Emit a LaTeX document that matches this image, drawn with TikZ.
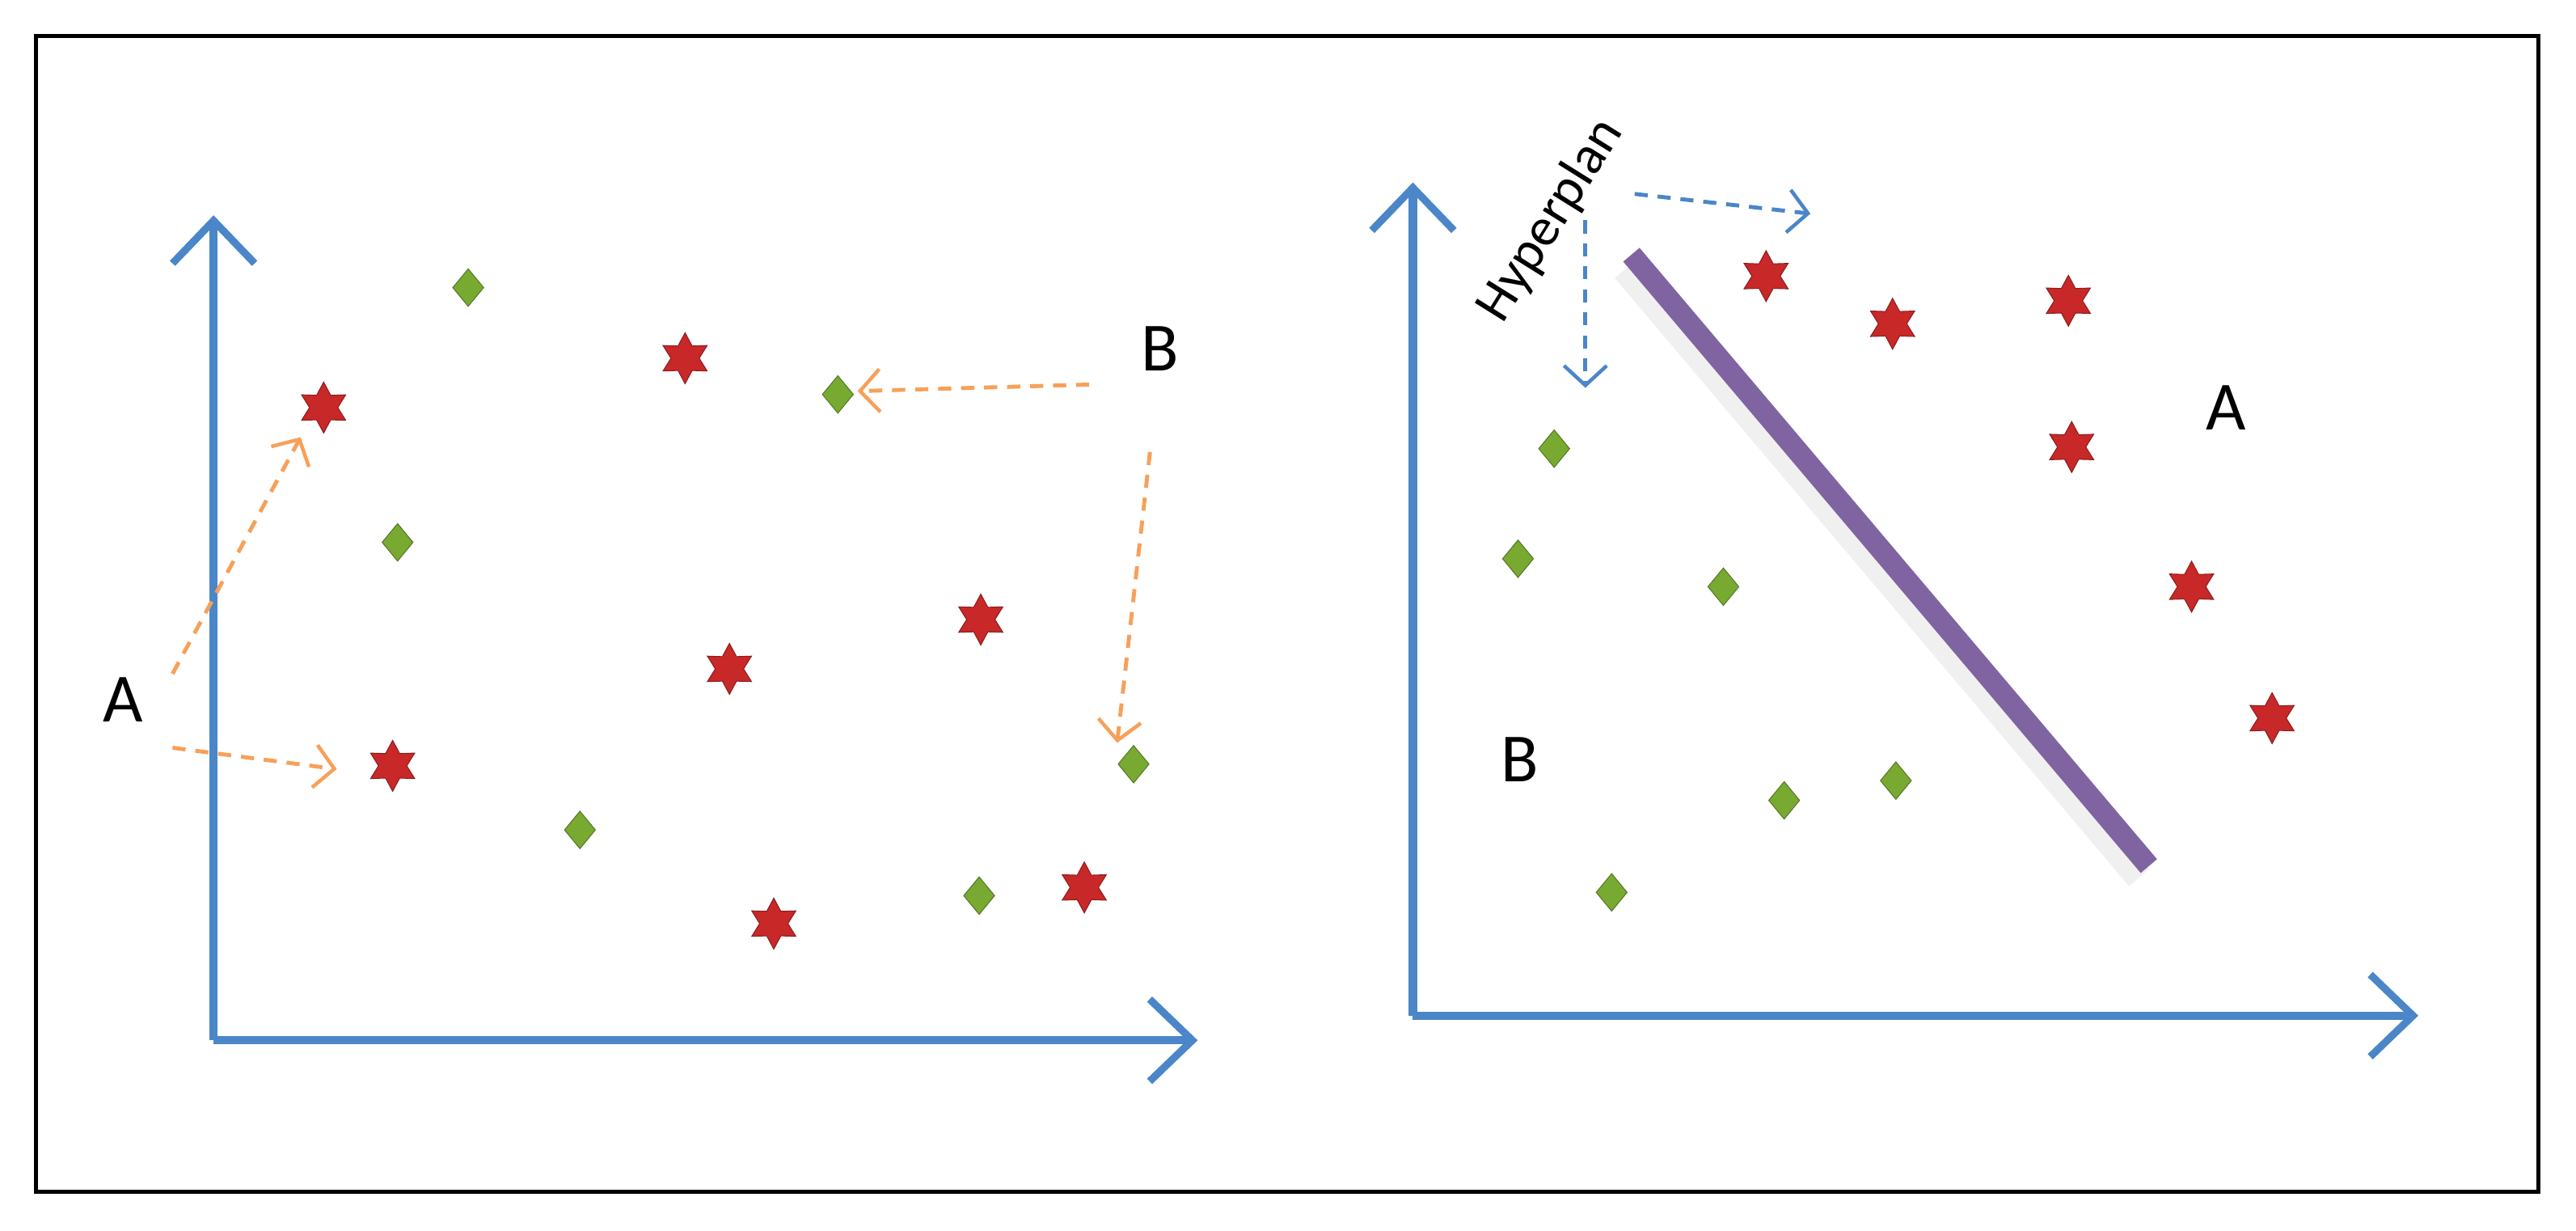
\documentclass[tikz,border=0pt]{standalone}
\usepackage{fontspec}
\setmainfont{Carlito}
\usetikzlibrary{shapes.geometric,arrows.meta}
\definecolor{axis}{RGB}{74,134,200}
\definecolor{orng}{RGB}{247,160,90}
\definecolor{strr}{RGB}{200,40,40}
\definecolor{dgrn}{RGB}{120,170,50}
\definecolor{purp}{RGB}{128,100,162}
\begin{document}
\begin{tikzpicture}[x=1pt,y=-1pt,
  ax/.style={draw=axis,line width=5pt,-{Straight Barb[length=26pt,width=50pt,line width=4.5pt]}},
  oarr/.style={draw=orng,line width=2.4pt,dash pattern=on 8pt off 6pt,-{Straight Barb[length=12pt,width=26pt,line width=2.2pt]}},
  barr/.style={draw=axis,line width=2.4pt,dash pattern=on 8pt off 6pt,-{Straight Barb[length=12pt,width=26pt,line width=2.2pt]}},
  st/.style={star,star points=6,star point ratio=1.8,minimum size=31pt,inner sep=0pt,fill=strr,draw=strr!70!black,line width=0.5pt},
  dm/.style={diamond,minimum width=19pt,minimum height=23pt,inner sep=0pt,fill=dgrn,draw=dgrn!70!black,line width=0.5pt},
  lab/.style={font=\fontsize{42}{46}\selectfont}]
\useasboundingbox (0,0) rectangle (1568,749);
\fill[white] (0,0) rectangle (1568,749);
\draw[line width=2.5pt] (22,22) rectangle (1545,725);
% left axes
\coordinate (o1) at (130,633); \coordinate (y1) at (130,131); \coordinate (x1) at (729,633);
\draw[ax] (o1) -- (y1); \draw[ax] (o1) -- (x1);
\foreach \n/\p in {d1/{285,175},d2/{510,240},d3/{242,330},d4/{353,505},d5/{596,545},d6/{690,465}}
  \node[dm] (\n) at (\p) {};
\foreach \n/\p in {s1/{197,248},s2/{417,218},s3/{597,377},s4/{444,407},s5/{239,466},s6/{471,562},s7/{660,540}}
  \node[st] (\n) at (\p) {};
\node[lab] (A1) at (75,426) {A};
\node[lab] (B1) at (706,212) {B};
\coordinate (a1s) at (105,410); \coordinate (a2s) at (105,455);
\coordinate (b1s) at (663,234); \coordinate (b2s) at (700,275);
\draw[oarr] (a1s) -- (183,266);
\draw[oarr] (a2s) -- (205,468);
\draw[oarr] (b1s) -- (522,238);
\draw[oarr] (b2s) -- (680,452);
% right axes
\coordinate (o2) at (860,618); \coordinate (y2) at (860,111); \coordinate (x2) at (1472,618);
\draw[ax] (o2) -- (y2); \draw[ax] (o2) -- (x2);
\draw[black!6,line width=16pt] (989,164) -- (1302,534);
\draw[purp,line width=13pt] (993,155) coordinate (h1) -- (1308,527) coordinate (h2);
\foreach \n/\p in {t1/{1075,168},t2/{1152,197},t3/{1259,183},t4/{1261,272},t5/{1334,357},t6/{1383,437}}
  \node[st] (\n) at (\p) {};
\foreach \n/\p in {e1/{946,273},e2/{924,340},e3/{1049,357},e4/{1086,487},e5/{1154,475},e6/{981,543}}
  \node[dm] (\n) at (\p) {};
\node[font=\fontsize{33}{36}\selectfont,rotate=58] (hp) at (944,134) {Hyperplan};
\node[lab] (A2) at (1355,248) {A};
\node[lab] (B2) at (925,462) {B};
\coordinate (v1) at (965,134); \coordinate (v2) at (965,236);
\coordinate (w1) at (995,118); \coordinate (w2) at (1102,130);
\draw[barr] (v1) -- (v2);
\draw[barr] (w1) -- (w2);
\end{tikzpicture}
\end{document}
